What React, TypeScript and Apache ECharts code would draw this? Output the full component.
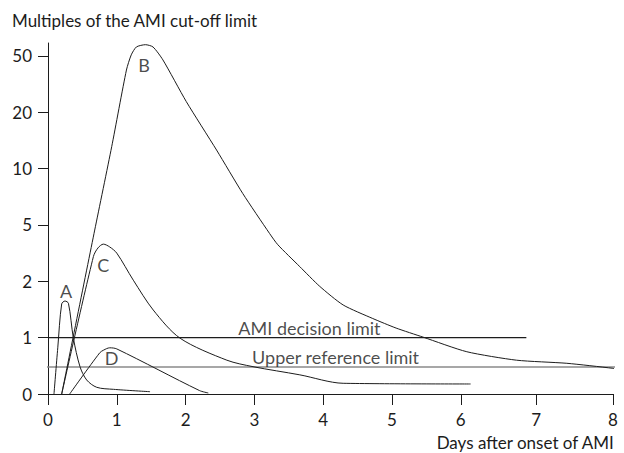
import React, { useEffect, useRef } from "react";
import * as echarts from "echarts";

// ---- Data (days after onset, multiples of the AMI cut-off limit) ----
const X_TICK_DAYS = [0, 1, 2, 3, 4, 5, 6, 7, 8];
const X_TICK_LABELS = ["0", "1", "2", "3", "4", "5", "6", "7", "8"];
const Y_TICK_VALUES = [0, 1, 2, 5, 10, 20, 50];
const Y_TICK_LABELS = ["0", "1", "2", "5", "10", "20", "50"];

const CURVE_A: [number, number][] = [
  [0.087, 0], [0.142, 0.82], [0.199, 1.6], [0.247, 1.65], [0.297, 1.61],
  [0.369, 0.99], [0.465, 0.485], [0.562, 0.249], [0.708, 0.119],
  [0.951, 0.083], [1.483, 0.041],
];
const CURVE_B: [number, number][] = [
  [0.199, 0], [0.679, 4.73], [0.926, 13.9], [1.14, 42.5], [1.21, 50.6],
  [1.285, 54.8], [1.416, 56], [1.526, 54.8], [1.67, 47.9], [2.01, 25.7],
  [2.45, 13.3], [2.83, 7.8], [3.22, 4.55], [3.34, 3.95],
  [3.66, 2.78], [3.95, 1.91], [4.29, 1.58], [4.72, 1.34], [5.06, 1.17],
  [5.45, 1.01], [6.08, 0.75], [6.74, 0.6], [7.4, 0.545], [8.0, 0.456],
  [8.05, 0.44],
];
const CURVE_C: [number, number][] = [
  [0.199, 0], [0.66, 3.32], [0.727, 3.78], [0.805, 3.98], [0.897, 3.83],
  [1.0, 3.5], [1.24, 2.06], [1.53, 1.49], [1.92, 0.99], [2.6, 0.6],
  [2.98, 0.485], [3.66, 0.34], [4.29, 0.19], [6.13, 0.178],
];
const CURVE_D: [number, number][] = [
  [0.315, 0], [0.751, 0.73], [0.81, 0.78], [0.897, 0.82], [1.0, 0.8],
  [2.2, 0.062], [2.33, 0.018],
];
const DECISION_LIMIT = 1;
const DECISION_RANGE = [0, 6.87];
const REFERENCE_LIMIT = 0.48;
const REFERENCE_RANGE = [-0.13, 8.05];

const CURVE_LABELS: { name: string; day: number; value: number }[] = [
  { name: "A", day: 0.262, value: 1.83 },
  { name: "B", day: 1.395, value: 45.2 },
  { name: "C", day: 0.805, value: 2.87 },
  { name: "D", day: 0.926, value: 0.634 },
];
const LINE_LABELS: { name: string; day: number; value: number }[] = [
  { name: "AMI decision limit", day: 3.8, value: 1.18 },
  { name: "Upper reference limit", day: 4.18, value: 0.657 },
];

// ---- Layout of the (hand drawn) axes: position of each tick on the axis ----
const X_TICK_POS = [0, 1, 2, 3, 4, 5, 6, 7.095, 8.21];
const X_MAX = 8.212;
const Y_TICK_POS = [0, 1, 2, 3, 4, 5, 6];
const Y_MAX = 6.23;

function piecewise(v: number, from: number[], to: number[]): number {
  const n = from.length;
  let i = 0;
  if (v <= from[0]) i = 0;
  else if (v >= from[n - 1]) i = n - 2;
  else {
    while (i < n - 2 && v > from[i + 1]) i++;
  }
  const t = (v - from[i]) / (from[i + 1] - from[i]);
  return to[i] + t * (to[i + 1] - to[i]);
}
const xp = (d: number) => piecewise(d, X_TICK_DAYS, X_TICK_POS);
const yp = (v: number) => piecewise(v, Y_TICK_VALUES, Y_TICK_POS);
const pt = (p: [number, number]) => [xp(p[0]), yp(p[1])];

const FONT = "Lato";
const INK = "#1c1c1c";

function nearestLabel(v: number, pos: number[], labels: string[]) {
  let best = 0;
  for (let i = 0; i < pos.length; i++) {
    if (Math.abs(pos[i] - v) < Math.abs(pos[best] - v)) best = i;
  }
  return labels[best];
}

export default function App() {
  const ref = useRef<HTMLDivElement>(null);
  useEffect(() => {
    if (!ref.current) return;
    const chart = echarts.init(ref.current, null, { renderer: "svg" });
    const curveSeries = [CURVE_A, CURVE_B, CURVE_C, CURVE_D].map((c, i) => ({
      type: "line",
      data: c.map(pt),
      symbol: "none",
      smooth: i === 1 ? 0.22 : 0.3,
      clip: false,
      lineStyle: { color: INK, width: 1 },
      z: 3,
    }));
    chart.setOption({
      animation: false,
      backgroundColor: "#ffffff",
      grid: { left: 48, right: 11, top: 43, bottom: 59 },
      xAxis: {
        type: "value",
        min: 0,
        max: X_MAX,
        splitLine: { show: false },
        axisLine: { lineStyle: { color: INK, width: 1 } },
        axisTick: { customValues: X_TICK_POS, length: 11, lineStyle: { color: INK } },
        axisLabel: {
          customValues: X_TICK_POS,
          formatter: (v: number) => nearestLabel(v, X_TICK_POS, X_TICK_LABELS),
          color: INK,
          fontFamily: FONT,
          fontSize: 17,
          margin: 17,
          showMaxLabel: true,
        },
      },
      yAxis: {
        type: "value",
        min: 0,
        max: Y_MAX,
        splitLine: { show: false },
        axisLine: { show: true, lineStyle: { color: INK, width: 1 } },
        axisTick: { show: true, customValues: Y_TICK_POS, length: 10, lineStyle: { color: INK } },
        axisLabel: {
          customValues: Y_TICK_POS,
          formatter: (v: number) => nearestLabel(v, Y_TICK_POS, Y_TICK_LABELS),
          color: INK,
          fontFamily: FONT,
          fontSize: 17,
          margin: 16,
        },
      },
      series: [
        ...curveSeries,
        {
          type: "line",
          data: DECISION_RANGE.map((d) => [xp(d), yp(DECISION_LIMIT)]),
          symbol: "none",
          clip: false,
          lineStyle: { color: INK, width: 1.2 },
          z: 2,
        },
        {
          type: "line",
          data: REFERENCE_RANGE.map((d) => [xp(d), yp(REFERENCE_LIMIT)]),
          symbol: "none",
          clip: false,
          lineStyle: { color: "#8a8a8a", width: 1.6 },
          z: 2,
        },
        {
          type: "scatter",
          symbolSize: 0,
          clip: false,
          data: [...CURVE_LABELS, ...LINE_LABELS].map((l) => ({
            name: l.name,
            value: [xp(l.day), yp(l.value)],
          })),
          label: {
            show: true,
            position: "inside",
            formatter: "{b}",
            color: INK,
            fontFamily: FONT,
            fontSize: 18,
          },
          z: 4,
        },
      ],
      graphic: [
        {
          type: "text",
          left: 12,
          top: 12,
          style: { text: "Multiples of the AMI cut-off limit", fill: INK, font: `17px ${FONT}` },
        },
        {
          type: "text",
          right: 9,
          top: 434,
          style: { text: "Days after onset of AMI", fill: INK, font: `17px ${FONT}` },
        },
      ],
    });
    return () => chart.dispose();
  }, []);
  return (
    <div
      ref={ref}
      style={{ position: "absolute", left: 0, top: 0, width: 624, height: 453 }}
    />
  );
}
